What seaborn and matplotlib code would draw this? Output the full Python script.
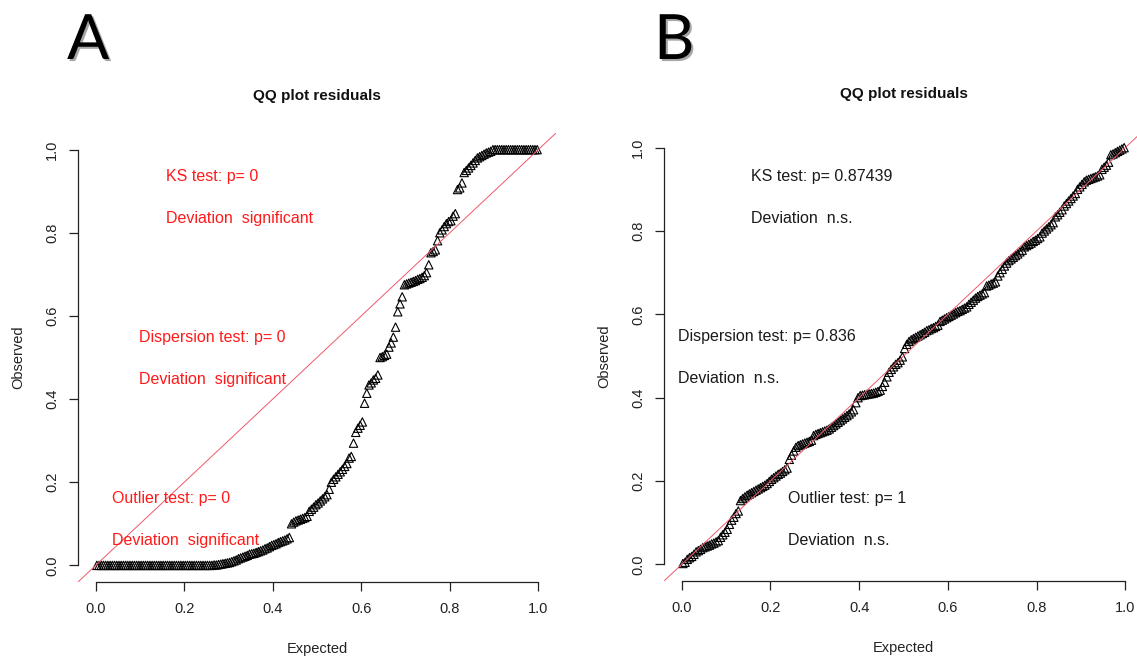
import numpy as np
import pandas as pd
import matplotlib
matplotlib.use("Agg")
import matplotlib.pyplot as plt
import matplotlib.patheffects as pe
import seaborn as sns

sns.set_style("ticks")
plt.rcParams["font.family"] = ["Liberation Sans", "DejaVu Sans"]

# Sorted scaled residuals of the two fitted models
resid_a = [
    0.0, 0.0, 0.0, 0.0, 0.0, 0.0, 0.0, 0.0, 0.0, 0.0, 0.0, 0.0, 0.0,
    0.0, 0.0, 0.0, 0.0, 0.0, 0.0, 0.0, 0.0, 0.0, 0.0, 0.0, 0.0, 0.0,
    0.0, 0.0, 0.0, 0.0, 0.0, 0.0, 0.0, 0.0, 0.0, 0.0, 0.0, 0.0, 0.0,
    0.0, 0.0, 0.0, 0.0, 0.0, 0.0, 0.0, 0.0, 0.0, 0.0, 0.0, 0.0, 0.0,
    0.000, 0.001, 0.001, 0.002, 0.003, 0.004, 0.005, 0.006,
    0.007, 0.009, 0.011, 0.013, 0.016, 0.018, 0.020, 0.022, 0.024, 0.027,
    0.028, 0.029, 0.031, 0.033, 0.035, 0.037, 0.040, 0.042, 0.045, 0.048,
    0.050, 0.052, 0.055, 0.057, 0.059, 0.061, 0.064, 0.067,
    0.100, 0.104, 0.107, 0.109, 0.111, 0.113, 0.115, 0.118,
    0.130, 0.135, 0.140, 0.146, 0.150, 0.155, 0.160, 0.165, 0.170,
    0.183,
    0.200, 0.207, 0.213, 0.219, 0.225, 0.231, 0.238, 0.245,
    0.258, 0.262, 0.294,
    0.320, 0.330, 0.337, 0.345,
    0.390, 0.414,
    0.434, 0.439, 0.446,
    0.450, 0.458,
    0.500, 0.502, 0.505, 0.508,
    0.525, 0.535, 0.549,
    0.573, 0.610,
    0.629, 0.646,
    0.675, 0.677, 0.679, 0.681, 0.683, 0.685, 0.688, 0.690, 0.693, 0.697, 0.704,
    0.723,
    0.752, 0.755, 0.759,
    0.781,
    0.800, 0.807,
    0.815, 0.822, 0.827, 0.829,
    0.840, 0.846,
    0.904, 0.908, 0.920,
    0.945, 0.950, 0.956, 0.962, 0.968, 0.974, 0.980,
    0.983, 0.986, 0.989, 0.992, 0.994, 0.996,
    1.0, 1.0, 1.0, 1.0, 1.0, 1.0, 1.0, 1.0, 1.0, 1.0, 1.0,
    1.0, 1.0, 1.0, 1.0, 1.0, 1.0, 1.0, 1.0, 1.0, 1.0,
]

resid_b = [
    0.002, 0.005, 0.012, 0.016, 0.019, 0.024, 0.030, 0.033, 0.036, 0.040,
    0.042, 0.044, 0.046, 0.049, 0.051, 0.054, 0.057,
    0.065, 0.071, 0.077, 0.084,
    0.096, 0.106, 0.113, 0.122, 0.128,
    0.153, 0.158, 0.162, 0.166, 0.169, 0.172, 0.175, 0.178,
    0.181, 0.184, 0.187, 0.190, 0.194, 0.199,
    0.204, 0.208, 0.212, 0.216, 0.219, 0.223, 0.227, 0.231,
    0.252, 0.262, 0.272, 0.281,
    0.285, 0.287, 0.289, 0.291, 0.293, 0.295, 0.298,
    0.309, 0.312, 0.314, 0.316, 0.318, 0.320, 0.322, 0.325, 0.329,
    0.333, 0.337, 0.341, 0.345, 0.349, 0.353, 0.357, 0.361, 0.366, 0.371,
    0.388, 0.400,
    0.405, 0.406, 0.407, 0.408, 0.409, 0.410, 0.411, 0.413, 0.415, 0.418,
    0.427, 0.437, 0.450, 0.461, 0.468, 0.474, 0.480, 0.484, 0.490, 0.498,
    0.518, 0.528, 0.535,
    0.539, 0.542, 0.545, 0.548, 0.551, 0.554, 0.557, 0.561,
    0.563, 0.566, 0.568, 0.571, 0.574,
    0.583, 0.586, 0.589, 0.592, 0.595, 0.598, 0.601, 0.604,
    0.607, 0.609, 0.612, 0.615, 0.618,
    0.624, 0.629, 0.634, 0.639,
    0.643, 0.646, 0.649, 0.652,
    0.668, 0.670, 0.673, 0.675, 0.678,
    0.692, 0.700, 0.708, 0.716, 0.723,
    0.729, 0.733, 0.737, 0.741, 0.745, 0.750, 0.754,
    0.762, 0.765, 0.768, 0.771, 0.775, 0.778, 0.782, 0.786,
    0.795, 0.800, 0.805, 0.810, 0.815, 0.820,
    0.834, 0.839, 0.845, 0.851,
    0.860, 0.866, 0.872, 0.878, 0.884, 0.890,
    0.900, 0.906, 0.912, 0.918, 0.922,
    0.924, 0.926, 0.928, 0.930, 0.932, 0.935,
    0.948, 0.953, 0.958,
    0.965,
    0.983, 0.985, 0.988, 0.991, 0.994, 0.997, 1.000,
]

panel_labels = ["A", "B"]
plot_title = "QQ plot residuals"
x_label = "Expected"
y_label = "Observed"
tick_values = [0.0, 0.2, 0.4, 0.6, 0.8, 1.0]
tick_labels = ["0.0", "0.2", "0.4", "0.6", "0.8", "1.0"]

test_names = ["KS test", "Dispersion test", "Outlier test"]
pvalues_a = ["0", "0", "0"]
pvalues_b = ["0.87439", "0.836", "1"]
verdict_a = "Deviation  significant"
verdict_b = "Deviation  n.s."


def qq_frame(resid):
    obs = np.sort(np.asarray(resid, dtype=float))
    n = len(obs)
    expected = (np.arange(1, n + 1) - 0.5) / n  # uniform plotting positions
    return pd.DataFrame({"Expected": expected, "Observed": obs})


W, H = 1137, 661
fig = plt.figure(figsize=(W / 100, H / 100), dpi=100)

# axes rectangles in pixels: left, top, right, bottom
rects = [(78, 133, 556, 582), (664, 131, 1143, 581)]

note_font = ["Liberation Sans", "DejaVu Sans"]


def draw_panel(rect, resid, pvals, verdict, color, note_xy, letter, letter_x):
    l, t, r, b = rect
    ax = fig.add_axes([l / W, (H - b) / H, (r - l) / W, (b - t) / H])
    df = qq_frame(resid)
    sns.scatterplot(data=df, x="Expected", y="Observed", ax=ax, marker="^",
                    s=36, facecolor="none", edgecolor="black",
                    linewidth=0.8, zorder=2, legend=False)
    ax.axline((0, 0), (1, 1), color="#ee5a6a", lw=0.7, zorder=3)
    ax.set_xlim(-0.04, 1.04)
    ax.set_ylim(-0.04, 1.04)
    sns.despine(ax=ax)
    for side in ("left", "bottom"):
        ax.spines[side].set_bounds(0, 1)
        ax.spines[side].set_linewidth(0.9)
        ax.spines[side].set_color("#222222")
    ax.set_xticks(tick_values)
    ax.set_xticklabels(tick_labels)
    ax.set_yticks(tick_values)
    ax.set_yticklabels(tick_labels, rotation=90, va="center")
    ax.tick_params(axis="both", length=6.5, width=0.9, color="#222222",
                   labelsize=10.5, labelcolor="#222222")
    ax.tick_params(axis="x", pad=8)
    ax.tick_params(axis="y", pad=7)
    ax.set_xlabel(x_label, fontsize=10.5, color="#222222")
    ax.set_ylabel(y_label, fontsize=10.5, color="#222222")
    ax.xaxis.set_label_coords(0.5, -60 / (b - t))
    ax.yaxis.set_label_coords(-53 / (r - l), 0.5)
    ax.text(0.5, 1 + 37 / (b - t), plot_title, transform=ax.transAxes,
            ha="center", va="center", fontsize=11, fontweight="bold",
            color="#111111")
    for name, p, (nx, ny1, ny2) in zip(test_names, pvals, note_xy):
        ax.text(nx, ny1, f"{name}: p= {p}", color=color, fontsize=11.5,
                family=note_font, ha="left", va="center")
        ax.text(nx, ny2, verdict, color=color, fontsize=11.5,
                family=note_font, ha="left", va="center")
    fig.text(letter_x / W, 1 - 59 / H, letter, fontsize=45,
             family=["Lato", "DejaVu Sans"], ha="left", va="baseline",
             color="black",
             path_effects=[pe.SimplePatchShadow(offset=(1.5, -1.5),
                                                alpha=0.35),
                           pe.Normal()])
    return ax


notes_a = [(0.158, 0.935, 0.834), (0.097, 0.549, 0.448), (0.036, 0.161, 0.060)]
notes_b = [(0.156, 0.930, 0.829), (-0.009, 0.546, 0.445), (0.239, 0.159, 0.058)]

draw_panel(rects[0], resid_a, pvalues_a, verdict_a, "#ff1a1a", notes_a,
           panel_labels[0], 67)
draw_panel(rects[1], resid_b, pvalues_b, verdict_b, "#1a1a1a", notes_b,
           panel_labels[1], 654)

fig.savefig("out.png", dpi=100)
